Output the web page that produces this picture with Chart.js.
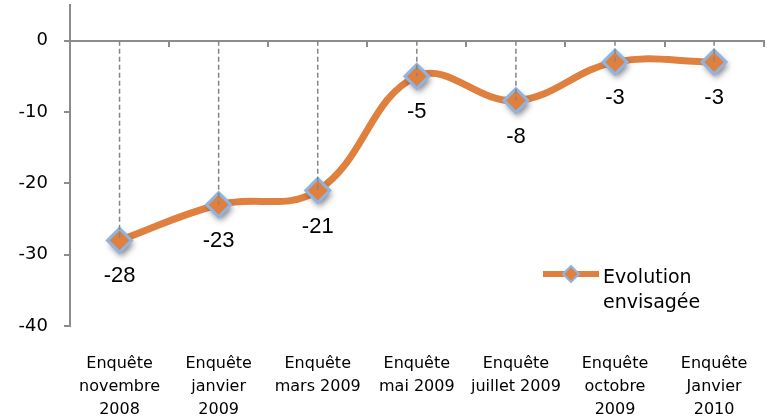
<!DOCTYPE html>
<html>
<head>
<meta charset="utf-8">
<script src="https://cdn.jsdelivr.net/npm/chart.js@4.4.1/dist/chart.umd.min.js"></script>
<style>
   html, body { margin: 0; padding: 0; background: #fff; }
   #wrap { width: 774px; height: 418px; }
</style>
</head>
<body>
<div id="wrap"><canvas id="chart-line"></canvas></div>
<script>
var enquetes = [
   ["Enquête", "novembre", "2008"],
   ["Enquête", "janvier", "2009"],
   ["Enquête", "mars 2009"],
   ["Enquête", "mai 2009"],
   ["Enquête", "juillet 2009"],
   ["Enquête", "octobre", "2009"],
   ["Enquête", "Janvier", "2010"],
];
var evolution = [-28, -23, -21, -5, -8.4, -3, -3];
var yTicks = [0, -10, -20, -30, -40];
var serieLabel = ["Evolution", "envisagée"];

var orange = "#E0803F";
var bleu = "#8EB4E3";
var gris = "#8C8C8C";

// ombre portée sous les marqueurs (dessinée avant le dataset 1)
var ombreMarqueurs = {
   id: "ombreMarqueurs",
   beforeDatasetDraw: function (chart, args) {
      if (args.index !== 1) return;
      var ctx = chart.ctx;
      var meta = chart.getDatasetMeta(1);
      ctx.save();
      ctx.shadowColor = "rgba(0, 0, 0, 0.5)";
      ctx.shadowBlur = 6;
      ctx.shadowOffsetX = 2;
      ctx.shadowOffsetY = 4;
      ctx.fillStyle = orange;
      meta.data.forEach(function (p) {
         Chart.helpers.drawPoint(ctx, { pointStyle: "rectRot", radius: 12, borderWidth: 0 }, p.x, p.y);
      });
      ctx.restore();
   },
};

// pointillés verticaux entre la ligne du zéro et le centre de chaque point
var dropLines = {
   id: "dropLines",
   afterDatasetsDraw: function (chart) {
      var ctx = chart.ctx;
      var y0 = chart.scales.y.getPixelForValue(0);
      var meta = chart.getDatasetMeta(1);
      ctx.save();
      ctx.strokeStyle = "#858585";
      ctx.lineWidth = 1.5;
      ctx.setLineDash([5, 3]);
      meta.data.forEach(function (p) {
         ctx.beginPath();
         ctx.moveTo(p.x, y0);
         ctx.lineTo(p.x, p.y);
         ctx.stroke();
      });
      ctx.restore();
   },
};

// étiquettes de valeurs sous les points
var valueLabels = {
   id: "valueLabels",
   afterDatasetsDraw: function (chart) {
      var ctx = chart.ctx;
      var meta = chart.getDatasetMeta(1);
      ctx.save();
      ctx.font = "22px 'Liberation Sans', Arial, sans-serif";
      ctx.fillStyle = "#000";
      ctx.textAlign = "center";
      ctx.textBaseline = "middle";
      meta.data.forEach(function (p, i) {
         ctx.fillText(String(Math.round(evolution[i])), p.x, p.y + 36);
      });
      ctx.restore();
   },
};

// légende dans la zone du graphique
var legendeInterne = {
   id: "legendeInterne",
   afterDraw: function (chart) {
      var ctx = chart.ctx;
      var x = 543, y = 274;
      ctx.save();
      ctx.strokeStyle = orange;
      ctx.lineWidth = 6;
      ctx.beginPath();
      ctx.moveTo(x, y);
      ctx.lineTo(x + 56, y);
      ctx.stroke();
      ctx.fillStyle = orange;
      ctx.strokeStyle = bleu;
      ctx.lineWidth = 2;
      Chart.helpers.drawPoint(ctx, { pointStyle: "rectRot", radius: 8, borderWidth: 2 }, x + 28, y);
      ctx.font = "19px 'DejaVu Sans', sans-serif";
      ctx.fillStyle = "#000";
      ctx.textAlign = "left";
      ctx.textBaseline = "alphabetic";
      ctx.fillText(serieLabel[0], x + 60, 283);
      ctx.fillText(serieLabel[1], x + 60, 308);
      ctx.restore();
   },
};

function LineChartEvolution(ctx) {
   window.grafica1 = new Chart(ctx, {
      type: "line",
      plugins: [ombreMarqueurs, dropLines, valueLabels, legendeInterne],
      data: {
         labels: enquetes,
         datasets: [
            {
               label: serieLabel.join(" "),
               data: evolution,
               borderColor: orange,
               borderWidth: 7,
               tension: 0.4,
               fill: false,
               pointRadius: 0,
               pointHoverRadius: 0,
               order: 2,
            },
            {
               label: serieLabel.join(" "),
               data: evolution,
               showLine: false,
               pointStyle: "rectRot",
               pointRadius: 12,
               pointHoverRadius: 12,
               pointBackgroundColor: orange,
               pointBorderColor: bleu,
               pointBorderWidth: 3,
               pointHoverBorderWidth: 3,
               order: 1,
            },
         ],
      },
      options: {
         responsive: true,
         maintainAspectRatio: false,
         animation: false,
         layout: {
            autoPadding: false,
            padding: { top: 5, right: 9, left: 0, bottom: 0 },
         },
         plugins: {
            legend: { display: false },
            tooltip: { enabled: false },
         },
         scales: {
            x: {
               type: "category",
               position: "bottom",
               offset: true,
               grid: { display: false, drawTicks: false },
               border: { display: false },
               ticks: {
                  color: "#000",
                  padding: 26,
                  maxRotation: 0,
                  autoSkip: false,
                  font: { size: 16, family: "'DejaVu Sans', sans-serif", lineHeight: 1.45 },
               },
               afterFit: function (scale) {
                  scale.height = 92;
               },
            },
            x2: {
               type: "category",
               axis: "x",
               position: { y: 0 },
               offset: true,
               grid: {
                  offset: true,
                  drawOnChartArea: false,
                  drawTicks: true,
                  tickLength: 5,
                  color: gris,
                  lineWidth: 2,
               },
               border: { color: gris, width: 2 },
               ticks: { display: false },
            },
            y: {
               min: -40,
               max: 5,
               afterBuildTicks: function (scale) {
                  scale.ticks = yTicks.map(function (v) {
                     return { value: v };
                  });
               },
               afterFit: function (scale) {
                  scale.width = 70;
                  scale.paddingTop = 0;
               },
               grid: {
                  drawOnChartArea: false,
                  drawTicks: true,
                  tickLength: 6,
                  color: gris,
                  lineWidth: 2,
               },
               border: { color: gris, width: 2 },
               ticks: {
                  color: "#000",
                  padding: 16,
                  font: { size: 18, family: "'DejaVu Sans', sans-serif" },
               },
            },
         },
      },
   });
}

LineChartEvolution(document.getElementById("chart-line").getContext("2d"));
</script>
</body>
</html>
